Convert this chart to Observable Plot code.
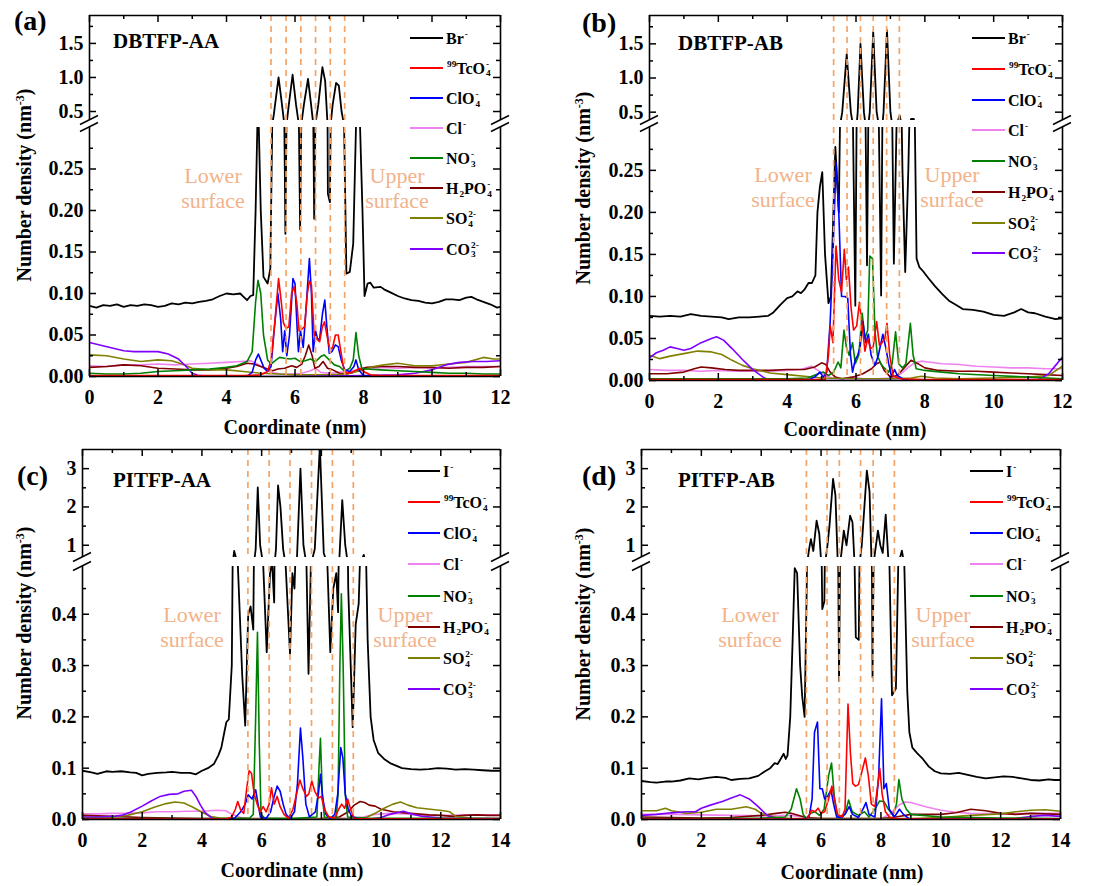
<!DOCTYPE html>
<html><head><meta charset="utf-8">
<script src="https://cdn.jsdelivr.net/npm/d3@7"></script>
<script src="https://cdn.jsdelivr.net/npm/@observablehq/plot@0.6"></script>
<style>
body{margin:0;background:#fff}
#root{position:relative;width:1107px;height:886px;overflow:hidden;font-family:"Liberation Serif","Times New Roman",serif;color:#000;background:#fff}
.t{position:absolute;white-space:nowrap;line-height:1}
.st{display:inline-block;vertical-align:-0.25em;font-size:0.58em;line-height:1.05;margin-left:1px;text-align:left}
.st span{display:block}
</style></head><body><div id="root"></div><script>
// ---------------- DATA ----------------
// Panel (a) DBTFP-AA, x in nm, y number density (nm^-3)
const a_Br = [[0,0.085],[0.2,0.083],[0.4,0.086],[0.6,0.085],[0.8,0.087],[1.0,0.084],[1.2,0.086],[1.4,0.085],[1.6,0.087],[1.8,0.086],[2.0,0.084],[2.2,0.085],[2.4,0.088],[2.6,0.087],[2.8,0.089],[3.0,0.088],[3.2,0.09],[3.4,0.091],[3.6,0.093],[3.8,0.097],[4.0,0.1],[4.2,0.099],[4.4,0.1],[4.5,0.096],[4.6,0.092],[4.7,0.097],[4.78,0.098],[4.85,0.2],[4.92,0.34],[5.0,0.2],[5.08,0.12],[5.2,0.112],[5.28,0.13],[5.38,0.45],[5.52,1.0],[5.62,0.6],[5.72,0.172],[5.82,0.6],[5.93,1.04],[6.03,0.6],[6.15,0.177],[6.26,0.6],[6.38,0.98],[6.47,0.6],[6.56,0.19],[6.68,0.6],[6.8,1.15],[6.88,0.95],[6.96,0.22],[7.02,0.21],[7.1,0.6],[7.2,0.92],[7.28,0.88],[7.36,0.5],[7.5,0.124],[7.6,0.126],[7.7,0.16],[7.78,0.3],[7.83,0.34],[7.9,0.3],[7.97,0.2],[8.03,0.097],[8.12,0.112],[8.2,0.113],[8.3,0.107],[8.5,0.108],[8.6,0.105],[8.8,0.101],[9.0,0.097],[9.2,0.094],[9.4,0.092],[9.6,0.091],[9.8,0.089],[10.0,0.088],[10.2,0.09],[10.4,0.093],[10.6,0.093],[10.8,0.092],[11.0,0.095],[11.15,0.096],[11.3,0.093],[11.5,0.09],[11.7,0.087],[11.9,0.083],[12,0.084]];
const a_TcO4 = [[0,0.001],[4.5,0.001],[5.0,0.002],[5.2,0.006],[5.3,0.02],[5.4,0.06],[5.52,0.118],[5.6,0.09],[5.66,0.065],[5.74,0.058],[5.82,0.06],[5.9,0.1],[5.97,0.108],[6.05,0.09],[6.12,0.055],[6.2,0.057],[6.28,0.06],[6.36,0.1],[6.42,0.115],[6.48,0.11],[6.56,0.05],[6.64,0.045],[6.72,0.042],[6.8,0.06],[6.86,0.066],[6.94,0.048],[7.02,0.032],[7.1,0.035],[7.18,0.05],[7.26,0.05],[7.34,0.03],[7.42,0.01],[7.5,0.004],[7.65,0.005],[7.8,0.008],[7.9,0.01],[8.0,0.006],[8.2,0.002],[8.5,0.001],[12,0.001]];
const a_ClO4 = [[0,0.0005],[4.6,0.0005],[4.75,0.005],[4.85,0.02],[4.93,0.027],[5.0,0.02],[5.1,0.01],[5.2,0.006],[5.3,0.012],[5.4,0.06],[5.5,0.1],[5.58,0.07],[5.64,0.03],[5.7,0.055],[5.76,0.025],[5.84,0.05],[5.94,0.118],[6.0,0.112],[6.06,0.06],[6.1,0.03],[6.16,0.055],[6.24,0.035],[6.32,0.08],[6.42,0.142],[6.48,0.1],[6.53,0.03],[6.6,0.055],[6.66,0.045],[6.72,0.045],[6.8,0.075],[6.87,0.092],[6.93,0.06],[7.0,0.028],[7.08,0.03],[7.18,0.038],[7.26,0.036],[7.35,0.02],[7.45,0.008],[7.6,0.006],[7.72,0.012],[7.78,0.02],[7.86,0.008],[8.0,0.001],[12,0.0005]];
const a_Cl = [[0,0.013],[0.5,0.012],[1.0,0.014],[1.5,0.014],[2.0,0.015],[2.5,0.014],[3.0,0.015],[3.5,0.016],[4.0,0.017],[4.4,0.018],[4.7,0.019],[4.9,0.015],[5.1,0.01],[5.3,0.005],[5.6,0.003],[5.9,0.003],[6.2,0.004],[6.45,0.007],[6.6,0.01],[6.75,0.005],[7.0,0.004],[7.3,0.005],[7.6,0.006],[7.9,0.009],[8.2,0.01],[8.6,0.011],[9.0,0.01],[9.5,0.011],[10.0,0.01],[10.5,0.011],[11.0,0.012],[11.5,0.012],[12,0.012]];
const a_NO3 = [[0,0.004],[0.5,0.003],[1.0,0.003],[1.5,0.004],[2.0,0.006],[2.5,0.007],[3.0,0.008],[3.5,0.009],[4.0,0.011],[4.3,0.013],[4.6,0.018],[4.75,0.03],[4.85,0.09],[4.92,0.116],[5.0,0.1],[5.08,0.05],[5.2,0.02],[5.3,0.015],[5.45,0.02],[5.55,0.023],[5.7,0.022],[5.85,0.021],[6.0,0.022],[6.15,0.018],[6.3,0.019],[6.45,0.021],[6.6,0.018],[6.75,0.024],[6.85,0.026],[7.0,0.02],[7.15,0.014],[7.3,0.012],[7.45,0.006],[7.6,0.01],[7.7,0.02],[7.78,0.053],[7.86,0.025],[7.95,0.01],[8.1,0.009],[8.5,0.008],[9.0,0.007],[9.5,0.006],[10.0,0.005],[10.5,0.004],[11.0,0.004],[11.5,0.003],[12,0.003]];
const a_H2PO4 = [[0,0.011],[0.5,0.012],[1.0,0.014],[1.5,0.013],[2.0,0.01],[2.5,0.009],[3.0,0.008],[3.5,0.008],[4.0,0.01],[4.3,0.012],[4.6,0.016],[4.8,0.015],[5.0,0.012],[5.2,0.009],[5.35,0.007],[5.5,0.009],[5.7,0.01],[5.9,0.013],[6.05,0.011],[6.2,0.015],[6.3,0.025],[6.4,0.038],[6.5,0.025],[6.58,0.01],[6.7,0.012],[6.82,0.018],[6.95,0.01],[7.1,0.008],[7.3,0.004],[7.5,0.003],[7.7,0.005],[7.9,0.009],[8.1,0.011],[8.5,0.012],[9.0,0.012],[9.5,0.011],[10.0,0.011],[10.5,0.01],[11.0,0.011],[11.5,0.011],[12,0.012]];
const a_SO4 = [[0,0.026],[0.5,0.025],[1.0,0.021],[1.5,0.018],[2.0,0.02],[2.4,0.019],[2.7,0.015],[3.0,0.01],[3.5,0.008],[4.0,0.008],[4.5,0.006],[5.0,0.004],[5.5,0.003],[6.0,0.002],[6.5,0.002],[7.0,0.002],[7.5,0.003],[8.0,0.008],[8.3,0.012],[8.6,0.014],[9.0,0.016],[9.5,0.013],[10.0,0.013],[10.5,0.015],[11.0,0.017],[11.5,0.023],[11.8,0.021],[12,0.021]];
const a_CO3 = [[0,0.041],[0.3,0.038],[0.6,0.035],[1.0,0.031],[1.3,0.03],[1.7,0.03],[2.0,0.03],[2.3,0.027],[2.6,0.021],[2.8,0.013],[3.0,0.004],[3.2,0.001],[4.0,0.0],[6.0,0.0],[8.0,0.001],[9.0,0.002],[9.5,0.004],[10.0,0.008],[10.4,0.014],[10.8,0.017],[11.2,0.018],[11.6,0.018],[12,0.019]];
const a_dash = [5.3,5.74,6.17,6.6,7.03,7.45];

// Panel (b) DBTFP-AB
const b_Br = [[0,0.077],[0.3,0.076],[0.6,0.077],[0.9,0.076],[1.2,0.079],[1.5,0.077],[1.8,0.076],[2.1,0.075],[2.3,0.073],[2.6,0.075],[2.9,0.075],[3.2,0.076],[3.45,0.077],[3.6,0.081],[3.8,0.09],[4.0,0.098],[4.15,0.1],[4.3,0.106],[4.4,0.104],[4.5,0.108],[4.62,0.116],[4.72,0.116],[4.82,0.125],[4.88,0.2],[4.95,0.23],[5.02,0.248],[5.1,0.15],[5.2,0.092],[5.27,0.1],[5.4,0.278],[5.5,0.2],[5.6,0.5],[5.73,1.35],[5.85,0.5],[5.98,0.089],[6.05,0.5],[6.13,1.5],[6.23,0.5],[6.32,0.137],[6.4,0.5],[6.5,1.67],[6.6,0.5],[6.73,0.101],[6.8,0.5],[6.9,1.7],[7.0,0.5],[7.1,0.139],[7.2,0.35],[7.27,0.45],[7.35,0.25],[7.43,0.129],[7.52,0.25],[7.6,0.4],[7.68,0.4],[7.76,0.145],[7.84,0.135],[7.95,0.13],[8.1,0.122],[8.3,0.112],[8.5,0.103],[8.7,0.095],[8.9,0.09],[9.1,0.085],[9.4,0.084],[9.7,0.082],[10.0,0.078],[10.3,0.077],[10.6,0.081],[10.8,0.085],[11.0,0.081],[11.2,0.08],[11.5,0.076],[11.8,0.073],[12,0.074]];
const b_TcO4 = [[0,0.001],[5.1,0.001],[5.2,0.03],[5.25,0.065],[5.33,0.045],[5.42,0.16],[5.5,0.12],[5.58,0.105],[5.66,0.156],[5.72,0.12],[5.78,0.135],[5.86,0.085],[5.93,0.06],[6.02,0.065],[6.1,0.093],[6.18,0.065],[6.26,0.035],[6.34,0.05],[6.42,0.038],[6.5,0.04],[6.6,0.07],[6.68,0.042],[6.76,0.045],[6.84,0.05],[6.9,0.068],[6.98,0.03],[7.08,0.005],[7.3,0.002],[8,0.001],[12,0.001]];
const b_ClO4 = [[0,0.0005],[4.6,0.0005],[4.8,0.004],[4.95,0.01],[5.05,0.004],[5.15,0.01],[5.25,0.07],[5.33,0.15],[5.42,0.26],[5.5,0.2],[5.58,0.1],[5.68,0.1],[5.76,0.098],[5.84,0.03],[5.9,0.01],[5.98,0.025],[6.05,0.03],[6.12,0.04],[6.2,0.07],[6.28,0.045],[6.36,0.055],[6.44,0.03],[6.55,0.018],[6.65,0.03],[6.78,0.055],[6.86,0.04],[6.95,0.02],[7.03,0.005],[7.12,0.013],[7.2,0.006],[7.4,0.001],[12,0.0005]];
const b_Cl = [[0,0.013],[0.5,0.012],[1.0,0.012],[1.5,0.011],[2.0,0.012],[2.5,0.011],[3.0,0.011],[3.5,0.011],[4.0,0.012],[4.4,0.013],[4.7,0.017],[4.9,0.012],[5.1,0.006],[5.3,0.003],[5.6,0.002],[5.9,0.004],[6.2,0.002],[6.6,0.002],[7.0,0.003],[7.3,0.008],[7.5,0.015],[7.7,0.021],[7.9,0.023],[8.1,0.022],[8.5,0.02],[9.0,0.019],[9.5,0.017],[10.0,0.016],[10.5,0.015],[11.0,0.015],[11.5,0.014],[12,0.014]];
const b_NO3 = [[0,0.002],[1,0.002],[2,0.002],[3,0.002],[4,0.002],[4.6,0.003],[4.9,0.008],[5.05,0.01],[5.2,0.006],[5.35,0.01],[5.48,0.022],[5.56,0.015],[5.65,0.06],[5.72,0.04],[5.8,0.03],[5.9,0.045],[5.98,0.02],[6.08,0.03],[6.18,0.08],[6.26,0.05],[6.34,0.06],[6.4,0.148],[6.48,0.145],[6.55,0.06],[6.62,0.03],[6.72,0.02],[6.82,0.015],[6.95,0.01],[7.05,0.02],[7.15,0.058],[7.24,0.02],[7.35,0.015],[7.45,0.02],[7.58,0.068],[7.66,0.03],[7.75,0.014],[8.0,0.012],[8.5,0.01],[9.0,0.008],[10.0,0.006],[11.0,0.004],[12,0.002]];
const b_H2PO4 = [[0,0.008],[0.5,0.008],[1.0,0.01],[1.3,0.014],[1.5,0.016],[1.8,0.015],[2.2,0.013],[2.6,0.012],[3.0,0.012],[3.5,0.012],[4.0,0.013],[4.5,0.013],[4.8,0.016],[5.0,0.021],[5.12,0.019],[5.25,0.01],[5.4,0.004],[5.6,0.002],[5.9,0.004],[6.2,0.008],[6.45,0.014],[6.6,0.02],[6.7,0.022],[6.82,0.012],[7.0,0.004],[7.2,0.006],[7.4,0.015],[7.6,0.024],[7.8,0.02],[8.0,0.015],[8.4,0.012],[9.0,0.011],[9.5,0.011],[10.0,0.01],[10.5,0.009],[11.0,0.008],[11.5,0.007],[12,0.006]];
const b_SO4 = [[0,0.03],[0.3,0.026],[0.6,0.029],[1.0,0.032],[1.4,0.035],[1.8,0.034],[2.1,0.031],[2.4,0.024],[2.7,0.018],[3.0,0.014],[3.5,0.009],[4.0,0.007],[4.5,0.005],[5.0,0.003],[6.0,0.002],[7.0,0.002],[7.6,0.003],[7.9,0.005],[8.3,0.003],[9.0,0.002],[10.0,0.003],[11.0,0.004],[11.6,0.006],[12,0.017]];
const b_CO3 = [[0,0.027],[0.2,0.033],[0.4,0.036],[0.6,0.04],[0.8,0.038],[1.0,0.036],[1.2,0.038],[1.5,0.045],[1.8,0.05],[1.95,0.052],[2.15,0.048],[2.4,0.038],[2.7,0.025],[3.0,0.013],[3.3,0.004],[3.5,0.0],[6,0.0],[9,0.0],[11.3,0.001],[11.6,0.008],[11.8,0.018],[12,0.028]];
const b_dash = [5.35,5.74,6.13,6.5,6.89,7.26];

// Panel (c) PITFP-AA
const c_I = [[0,0.095],[0.3,0.092],[0.5,0.089],[0.8,0.094],[1.0,0.093],[1.3,0.094],[1.6,0.092],[1.8,0.091],[2.0,0.086],[2.2,0.089],[2.5,0.091],[2.8,0.092],[3.0,0.093],[3.3,0.091],[3.6,0.091],[3.8,0.088],[4.0,0.095],[4.2,0.1],[4.4,0.108],[4.55,0.125],[4.65,0.14],[4.75,0.17],[4.82,0.19],[4.9,0.195],[5.0,0.3],[5.08,0.85],[5.2,0.5],[5.35,0.28],[5.45,0.183],[5.55,0.4],[5.63,0.415],[5.72,0.37],[5.8,0.9],[5.87,2.51],[5.95,1.0],[6.05,0.5],[6.17,0.326],[6.28,0.48],[6.35,0.5],[6.42,0.423],[6.48,0.9],[6.55,2.56],[6.63,2.0],[6.72,0.9],[6.8,0.5],[6.95,0.323],[7.03,0.48],[7.1,0.45],[7.18,0.6],[7.3,3.0],[7.4,1.0],[7.5,0.5],[7.57,0.284],[7.65,0.5],[7.78,0.9],[7.95,3.6],[8.08,0.8],[8.2,0.5],[8.3,0.326],[8.4,0.45],[8.5,0.48],[8.56,0.404],[8.6,0.6],[8.7,2.18],[8.8,1.0],[8.9,0.45],[9.05,0.18],[9.15,0.38],[9.25,0.42],[9.42,0.75],[9.55,0.35],[9.65,0.2],[9.75,0.155],[9.9,0.13],[10.1,0.118],[10.3,0.11],[10.5,0.105],[10.7,0.1],[11.0,0.098],[11.3,0.097],[11.6,0.098],[11.9,0.1],[12.2,0.099],[12.5,0.097],[12.8,0.098],[13.1,0.097],[13.4,0.096],[13.7,0.095],[14,0.095]];
const c_TcO4 = [[0,0.001],[4.8,0.001],[5.0,0.005],[5.12,0.02],[5.2,0.035],[5.3,0.018],[5.4,0.012],[5.5,0.06],[5.58,0.095],[5.66,0.09],[5.75,0.05],[5.85,0.03],[5.95,0.015],[6.05,0.025],[6.15,0.015],[6.25,0.03],[6.33,0.062],[6.42,0.03],[6.52,0.045],[6.62,0.025],[6.75,0.01],[6.9,0.002],[7.05,0.02],[7.15,0.045],[7.28,0.077],[7.38,0.06],[7.5,0.045],[7.58,0.05],[7.68,0.075],[7.78,0.055],[7.9,0.042],[8.0,0.045],[8.1,0.02],[8.25,0.005],[8.45,0.003],[8.58,0.02],[8.68,0.03],[8.78,0.022],[8.88,0.04],[8.98,0.02],[9.1,0.002],[14,0.001]];
const c_ClO4 = [[0,0.0005],[4.9,0.0005],[5.1,0.003],[5.3,0.015],[5.45,0.03],[5.55,0.048],[5.68,0.04],[5.8,0.058],[5.88,0.03],[5.96,0.005],[6.15,0.002],[6.3,0.015],[6.42,0.045],[6.52,0.065],[6.62,0.055],[6.72,0.03],[6.82,0.01],[6.95,0.002],[7.1,0.015],[7.2,0.07],[7.3,0.178],[7.38,0.12],[7.48,0.03],[7.6,0.005],[7.8,0.015],[7.9,0.05],[7.97,0.088],[8.05,0.04],[8.15,0.01],[8.3,0.002],[8.45,0.01],[8.55,0.05],[8.65,0.14],[8.72,0.12],[8.8,0.05],[8.9,0.02],[9.0,0.008],[9.2,0.001],[14,0.0005]];
const c_Cl = [[0,0.011],[0.5,0.011],[1.0,0.012],[1.5,0.012],[2.0,0.013],[2.5,0.015],[3.0,0.015],[3.5,0.016],[4.0,0.016],[4.5,0.018],[4.8,0.017],[5.0,0.01],[5.3,0.004],[5.6,0.002],[6.0,0.002],[7.0,0.002],[8.0,0.002],[9.0,0.003],[9.4,0.005],[9.8,0.01],[10.3,0.012],[10.8,0.011],[11.3,0.009],[11.8,0.008],[12.3,0.008],[12.8,0.009],[13.3,0.009],[14,0.009]];
const c_NO3 = [[0,0.002],[2,0.002],[4,0.002],[5.0,0.002],[5.6,0.003],[5.72,0.01],[5.8,0.2],[5.86,0.365],[5.92,0.15],[5.98,0.01],[6.1,0.003],[7.0,0.002],[7.85,0.005],[7.92,0.1],[7.97,0.158],[8.03,0.05],[8.1,0.005],[8.5,0.004],[8.56,0.05],[8.62,0.3],[8.67,0.44],[8.73,0.3],[8.8,0.05],[8.88,0.005],[9.5,0.003],[14,0.002]];
const c_H2PO4 = [[0,0.008],[1.0,0.006],[2.0,0.004],[3.0,0.003],[4.0,0.002],[5.0,0.002],[6.0,0.001],[7.0,0.001],[8.0,0.002],[8.6,0.005],[8.9,0.015],[9.1,0.028],[9.3,0.035],[9.45,0.033],[9.6,0.028],[9.8,0.026],[10.0,0.02],[10.4,0.015],[10.8,0.013],[11.2,0.011],[11.6,0.009],[12.0,0.008],[12.4,0.006],[12.8,0.008],[13.2,0.009],[13.6,0.008],[14,0.008]];
const c_SO4 = [[0,0.004],[0.5,0.004],[1.0,0.005],[1.5,0.008],[2.0,0.015],[2.4,0.024],[2.8,0.031],[3.1,0.034],[3.4,0.032],[3.7,0.024],[4.0,0.014],[4.3,0.006],[4.6,0.003],[5.5,0.002],[7,0.002],[9,0.002],[9.5,0.004],[9.8,0.012],[10.1,0.022],[10.4,0.03],[10.65,0.034],[10.9,0.028],[11.2,0.023],[11.5,0.021],[11.8,0.019],[12.1,0.017],[12.3,0.015],[12.5,0.006],[13,0.003],[14,0.002]];
const c_CO3 = [[0,0.005],[0.5,0.005],[1.0,0.006],[1.3,0.008],[1.6,0.014],[2.0,0.026],[2.3,0.036],[2.6,0.045],[2.9,0.049],[3.2,0.05],[3.4,0.055],[3.65,0.057],[3.8,0.045],[3.95,0.028],[4.1,0.014],[4.3,0.004],[4.5,0.0],[9.5,0.0],[10.0,0.004],[10.3,0.01],[10.6,0.014],[10.75,0.016],[11.0,0.011],[11.4,0.006],[12,0.003],[13,0.002],[14,0.002]];
const c_dash = [5.54,6.25,6.95,7.67,8.37,9.07];

// Panel (d) PITFP-AB
const d_I = [[0,0.075],[0.3,0.073],[0.5,0.072],[0.8,0.074],[1.0,0.074],[1.3,0.076],[1.6,0.08],[1.9,0.078],[2.2,0.081],[2.5,0.083],[2.8,0.081],[3.0,0.077],[3.3,0.079],[3.6,0.08],[3.9,0.085],[4.1,0.093],[4.3,0.1],[4.45,0.11],[4.55,0.108],[4.65,0.118],[4.75,0.128],[4.82,0.118],[4.88,0.125],[4.97,0.2],[5.05,0.35],[5.12,0.49],[5.2,0.48],[5.3,0.3],[5.37,0.24],[5.45,0.2],[5.52,0.45],[5.6,0.9],[5.66,1.16],[5.74,0.85],[5.85,1.64],[5.94,1.3],[6.0,0.6],[6.04,0.41],[6.11,0.425],[6.2,0.9],[6.28,1.5],[6.4,2.73],[6.48,2.3],[6.55,0.7],[6.6,0.27],[6.68,0.8],[6.76,1.38],[6.85,1.0],[6.97,1.77],[7.05,1.6],[7.12,0.5],[7.16,0.355],[7.26,0.35],[7.36,1.0],[7.53,2.95],[7.62,2.4],[7.68,0.7],[7.72,0.277],[7.8,0.8],[7.9,1.38],[7.98,1.0],[8.06,0.8],[8.16,1.8],[8.25,0.6],[8.37,0.242],[8.5,0.255],[8.58,0.5],[8.7,0.86],[8.78,0.5],[8.88,0.25],[8.95,0.17],[9.05,0.14],[9.2,0.13],[9.4,0.118],[9.6,0.103],[9.8,0.094],[10.0,0.09],[10.3,0.089],[10.6,0.091],[10.9,0.087],[11.2,0.083],[11.5,0.08],[11.8,0.082],[12.1,0.084],[12.4,0.083],[12.7,0.08],[13.0,0.077],[13.3,0.076],[13.6,0.078],[13.8,0.077],[14,0.077]];
const d_TcO4 = [[0,0.001],[5.5,0.001],[5.58,0.005],[5.68,0.018],[5.8,0.015],[5.9,0.022],[6.0,0.012],[6.12,0.015],[6.25,0.04],[6.36,0.065],[6.45,0.04],[6.55,0.01],[6.7,0.005],[6.8,0.02],[6.9,0.225],[6.98,0.13],[7.06,0.07],[7.15,0.065],[7.25,0.068],[7.35,0.09],[7.48,0.12],[7.58,0.085],[7.68,0.03],[7.8,0.025],[7.9,0.07],[7.96,0.1],[8.04,0.05],[8.15,0.015],[8.3,0.004],[8.6,0.001],[14,0.001]];
const d_ClO4 = [[0,0.0005],[5.4,0.0005],[5.6,0.005],[5.7,0.04],[5.78,0.17],[5.88,0.19],[5.96,0.06],[6.04,0.06],[6.12,0.04],[6.22,0.045],[6.33,0.058],[6.42,0.03],[6.52,0.005],[6.7,0.004],[6.82,0.012],[6.94,0.025],[7.05,0.01],[7.25,0.004],[7.4,0.02],[7.5,0.033],[7.6,0.01],[7.8,0.005],[7.92,0.08],[8.02,0.235],[8.1,0.06],[8.18,0.07],[8.28,0.02],[8.45,0.005],[8.62,0.02],[8.75,0.01],[8.95,0.001],[14,0.0005]];
const d_Cl = [[0,0.01],[1,0.01],[2,0.009],[3,0.008],[4,0.007],[5,0.008],[5.5,0.004],[6,0.002],[7,0.001],[8,0.002],[8.3,0.01],[8.6,0.028],[8.8,0.034],[9.0,0.033],[9.5,0.025],[10,0.018],[10.5,0.014],[11,0.012],[12,0.011],[13,0.012],[14,0.012]];
const d_NO3 = [[0,0.002],[2,0.002],[4,0.003],[4.8,0.005],[5.0,0.02],[5.18,0.06],[5.3,0.04],[5.4,0.01],[5.5,0.002],[5.65,0.012],[5.8,0.015],[5.95,0.008],[6.1,0.02],[6.25,0.085],[6.35,0.11],[6.45,0.04],[6.55,0.005],[6.8,0.01],[6.92,0.038],[7.04,0.015],[7.25,0.008],[7.45,0.015],[7.6,0.005],[7.8,0.02],[7.95,0.036],[8.1,0.035],[8.25,0.02],[8.4,0.008],[8.52,0.03],[8.6,0.078],[8.7,0.04],[8.85,0.02],[9.0,0.01],[10,0.005],[12,0.003],[14,0.002]];
const d_H2PO4 = [[0,0.005],[1,0.004],[2,0.003],[3,0.004],[4,0.008],[4.5,0.012],[4.8,0.014],[5.0,0.012],[5.5,0.004],[6,0.002],[8,0.002],[8.5,0.005],[9,0.01],[10,0.01],[10.5,0.013],[11,0.02],[11.5,0.017],[12,0.012],[12.5,0.01],[13,0.012],[14,0.01]];
const d_SO4 = [[0,0.017],[0.5,0.017],[0.8,0.022],[1.0,0.017],[1.5,0.012],[2.0,0.014],[2.5,0.02],[3.0,0.02],[3.5,0.025],[3.8,0.02],[4.0,0.012],[4.5,0.004],[5,0.002],[9,0.002],[10,0.004],[11,0.008],[12,0.011],[12.5,0.015],[13,0.018],[13.5,0.019],[14,0.016]];
const d_CO3 = [[0,0.008],[0.5,0.01],[1,0.013],[1.5,0.015],[1.8,0.015],[2.0,0.022],[2.3,0.028],[2.7,0.035],[3.0,0.042],[3.3,0.048],[3.6,0.04],[3.9,0.025],[4.2,0.008],[4.5,0.002],[5,0.0],[12,0.0],[12.5,0.002],[13,0.006],[13.5,0.008],[14,0.006]];
const d_dash = [5.51,6.2,6.61,7.32,7.74,8.45];

// tick values
const xTicks12 = [0,2,4,6,8,10,12], xMinor12 = [1,3,5,7,9,11];
const xTicks14 = [0,2,4,6,8,10,12,14], xMinor14 = [1,3,5,7,9,11,13];
const yUpAB = [0.5,1.0,1.5], yUpABminor = [0.75,1.25,1.75];
const yLoAB = [0,0.05,0.1,0.15,0.2,0.25], yLoABminor = [0.025,0.075,0.125,0.175,0.225,0.275];
const yUpCD = [1,2,3], yUpCDminor = [1.5,2.5];
const yLoCD = [0,0.1,0.2,0.3,0.4], yLoCDminor = [0.05,0.15,0.25,0.35,0.45];

// legend labels: ["t", text] plain, ["s", sub, sup] stacked
const lab_Br = [["t","Br"],["s","","-"]];
const lab_I = [["t","I"],["s","","-"]];
const lab_TcO4 = [["s","","99"],["t","TcO"],["s","4","-"]];
const lab_ClO4 = [["t","ClO"],["s","4","-"]];
const lab_Cl = [["t","Cl"],["s","","-"]];
const lab_NO3 = [["t","NO"],["s","3","-"]];
const lab_H2PO4 = [["t","H"],["s","2",""],["t","PO"],["s","4","-"]];
const lab_SO4 = [["t","SO"],["s","4","2-"]];
const lab_CO3 = [["t","CO"],["s","3","2-"]];

// ---------------- STYLE ----------------
const C = {anion:"#000000", TcO4:"#FF0000", ClO4:"#0000FF", Cl:"#EE82EE", NO3:"#008000", H2PO4:"#800000", SO4:"#808000", CO3:"#8000FF"};
const ORANGE = "#F4A466", SURF = "#F2B28A";
const FONT = '"Liberation Serif","Times New Roman",serif';
const ML = 75, MR = 12, MT = 12, MB = 45;

function mkSeries(an, tc, cl4, cl, no3, h2, so4, co3, anLab) {
  return [
    {data: an, color: C.anion, w: 1.8, lab: anLab},
    {data: tc, color: C.TcO4, w: 1.6, lab: lab_TcO4},
    {data: cl4, color: C.ClO4, w: 1.6, lab: lab_ClO4},
    {data: cl, color: C.Cl, w: 1.6, lab: lab_Cl},
    {data: no3, color: C.NO3, w: 1.6, lab: lab_NO3},
    {data: h2, color: C.H2PO4, w: 1.6, lab: lab_H2PO4},
    {data: so4, color: C.SO4, w: 1.6, lab: lab_SO4},
    {data: co3, color: C.CO3, w: 1.6, lab: lab_CO3}
  ];
}
const drawOrder = [0,3,5,6,7,4,2,1];

const panels = [
  {tag:"(a)", title:"DBTFP-AA", fl:89, fr:500, ft:15, ub:120, lt:127, fb:376, xMax:12, up:[0.368,1.91], lo:[0,0.3],
   upMaj:yUpAB, upMin:yUpABminor, loMaj:yLoAB, loMin:yLoABminor, upFmt:d=>d.toFixed(1), loFmt:d=>d.toFixed(2),
   xMaj:xTicks12, xMin:xMinor12, dash:a_dash,
   series: mkSeries(a_Br,a_TcO4,a_ClO4,a_Cl,a_NO3,a_H2PO4,a_SO4,a_CO3,lab_Br),
   tagPos:[14,6.5], titlePos:[113,31], lower:[213,183], upper:[397,183],
   yTitle:[24,185], xTitle:[295,434], leg:[410,443,37.5,30.15]},
  {tag:"(b)", title:"DBTFP-AB", fl:649, fr:1062, ft:15, ub:120, lt:127, fb:380, xMax:12, up:[0.378,1.915], lo:[0,0.301],
   upMaj:yUpAB, upMin:yUpABminor, loMaj:yLoAB, loMin:yLoABminor, upFmt:d=>d.toFixed(1), loFmt:d=>d.toFixed(2),
   xMaj:xTicks12, xMin:xMinor12, dash:b_dash,
   series: mkSeries(b_Br,b_TcO4,b_ClO4,b_Cl,b_NO3,b_H2PO4,b_SO4,b_CO3,lab_Br),
   tagPos:[582,8.5], titlePos:[678,33], lower:[783,182], upper:[952,182],
   yTitle:[583,188], xTitle:[855,436], leg:[972,1005,38.3,30.7]},
  {tag:"(c)", title:"PITFP-AA", fl:82, fr:500, ft:449, ub:557, lt:566, fb:819, xMax:14, up:[0.68,3.5], lo:[0,0.493],
   upMaj:yUpCD, upMin:yUpCDminor, loMaj:yLoCD, loMin:yLoCDminor, upFmt:d=>String(d), loFmt:d=>d.toFixed(1),
   xMaj:xTicks14, xMin:xMinor14, dash:c_dash,
   series: mkSeries(c_I,c_TcO4,c_ClO4,c_Cl,c_NO3,c_H2PO4,c_SO4,c_CO3,lab_I),
   tagPos:[17,461.5], titlePos:[113,470], lower:[192,622], upper:[405,622],
   yTitle:[24,623], xTitle:[292,877], leg:[408,440,470.7,31.2]},
  {tag:"(d)", title:"PITFP-AB", fl:641, fr:1060, ft:449, ub:557, lt:566, fb:819, xMax:14, up:[0.68,3.5], lo:[0,0.493],
   upMaj:yUpCD, upMin:yUpCDminor, loMaj:yLoCD, loMin:yLoCDminor, upFmt:d=>String(d), loFmt:d=>d.toFixed(1),
   xMaj:xTicks14, xMin:xMinor14, dash:d_dash,
   series: mkSeries(d_I,d_TcO4,d_ClO4,d_Cl,d_NO3,d_H2PO4,d_SO4,d_CO3,lab_I),
   tagPos:[582,461.5], titlePos:[678,470], lower:[750,622], upper:[943,622],
   yTitle:[583,624], xTitle:[852,879], leg:[970,1003,470.7,31.2]}
];

const root = document.getElementById("root");

function subplot(p, isUp) {
  const fw = p.fr - p.fl;
  const top = isUp ? p.ft : p.lt;
  const bot = isUp ? p.ub : p.fb;
  const fh = bot - top;
  const mt = isUp ? MT : 0, mb = isUp ? 0 : MB;
  const ydom = isUp ? p.up : p.lo;
  const xdom = [0, p.xMax];
  const marks = [];
  drawOrder.forEach(i => {
    const s = p.series[i];
    marks.push(Plot.line(s.data, {x: d => d[0], y: d => d[1], stroke: s.color, strokeWidth: s.w, clip: true}));
  });
  marks.push(Plot.ruleX(p.dash, {x: d => d, stroke: ORANGE, strokeWidth: 1.7, strokeDasharray: "6,5"}));
  marks.push(Plot.ruleX(xdom, {x: d => d, stroke: "#000", strokeWidth: 1.6}));
  marks.push(Plot.ruleY([isUp ? ydom[1] : ydom[0]], {y: d => d, stroke: "#000", strokeWidth: 1.6}));
  const yMaj = isUp ? p.upMaj : p.loMaj, yMin = isUp ? p.upMin : p.loMin;
  marks.push(Plot.tickY(yMaj, {y: d => d, insetRight: fw - 7, strokeWidth: 1.5}));
  marks.push(Plot.tickY(yMaj, {y: d => d, insetLeft: fw - 7, strokeWidth: 1.5}));
  marks.push(Plot.tickY(yMin, {y: d => d, insetRight: fw - 4, strokeWidth: 1.5}));
  marks.push(Plot.tickY(yMin, {y: d => d, insetLeft: fw - 4, strokeWidth: 1.5}));
  if (isUp) {
    marks.push(Plot.tickX(p.xMaj, {x: d => d, insetBottom: fh - 7, strokeWidth: 1.5}));
    marks.push(Plot.tickX(p.xMin, {x: d => d, insetBottom: fh - 4, strokeWidth: 1.5}));
  } else {
    marks.push(Plot.tickX(p.xMaj, {x: d => d, insetTop: fh - 7, strokeWidth: 1.5}));
    marks.push(Plot.tickX(p.xMin, {x: d => d, insetTop: fh - 4, strokeWidth: 1.5}));
    marks.push(Plot.axisX(p.xMaj, {tickSize: 0, tickPadding: 13, tickFormat: d => String(d), label: null, fontSize: 20, fontWeight: "bold"}));
  }
  marks.push(Plot.axisY(yMaj, {anchor: "left", tickSize: 0, tickPadding: 6, tickFormat: isUp ? p.upFmt : p.loFmt, label: null, fontSize: 20, fontWeight: "bold"}));
  const svg = Plot.plot({
    width: ML + fw + MR, height: mt + fh + mb,
    marginLeft: ML, marginRight: MR, marginTop: mt, marginBottom: mb,
    x: isUp ? {domain: xdom, axis: null} : {domain: xdom},
    y: {domain: ydom},
    style: {fontFamily: FONT, fontSize: "20px", fontWeight: "bold", background: "transparent", overflow: "visible", color: "#000"},
    marks
  });
  svg.style.position = "absolute";
  svg.style.left = (p.fl - ML) + "px";
  svg.style.top = (isUp ? p.ft - MT : p.lt) + "px";
  svg.style.maxWidth = "none";
  root.appendChild(svg);
}

function chem(parts) {
  return parts.map(q => q[0] === "t" ? q[1] :
    `<span class="st"><span>${q[2] || "&nbsp;"}</span><span>${q[1] || "&nbsp;"}</span></span>`).join("");
}
function addText(html, left, top, css) {
  const el = document.createElement("div");
  el.className = "t";
  el.innerHTML = html;
  el.style.left = left + "px";
  el.style.top = top + "px";
  Object.assign(el.style, css || {});
  root.appendChild(el);
  return el;
}

panels.forEach(p => { subplot(p, true); subplot(p, false); });

// break marks
const ov = d3.create("svg").attr("width", 1107).attr("height", 886)
  .style("position", "absolute").style("left", "0px").style("top", "0px").style("overflow", "visible");
panels.forEach(p => {
  const yc = (p.ub + p.lt) / 2, h = (p.lt - p.ub) / 2;
  [p.fl, p.fr].forEach(x => {
    ov.append("polygon").attr("points", `${x-9},${yc-h+4.5} ${x+9},${yc-h-4.5} ${x+9},${yc+h-4.5} ${x-9},${yc+h+4.5}`).attr("fill", "#fff");
    ov.append("line").attr("x1", x-9).attr("y1", yc-h+4.5).attr("x2", x+9).attr("y2", yc-h-4.5).attr("stroke", "#000").attr("stroke-width", 1.5);
    ov.append("line").attr("x1", x-9).attr("y1", yc+h+4.5).attr("x2", x+9).attr("y2", yc+h-4.5).attr("stroke", "#000").attr("stroke-width", 1.5);
  });
});
root.appendChild(ov.node());

// texts
panels.forEach(p => {
  addText(p.tag, p.tagPos[0], p.tagPos[1], {fontSize: "28px", fontWeight: "bold"});
  addText(p.title, p.titlePos[0], p.titlePos[1], {fontSize: "21px", fontWeight: "bold"});
  [["Lower", p.lower], ["Upper", p.upper]].forEach(([w, pos]) => {
    addText(w, pos[0], pos[1] - 18.5, {fontSize: "22px", color: SURF, transform: "translateX(-50%)"});
    addText("surface", pos[0], pos[1] + 25 - 18.5, {fontSize: "22px", color: SURF, transform: "translateX(-50%)"});
  });
  addText('Number density (nm<sup style="font-size:0.6em;vertical-align:0.65em">-3</sup>)', p.yTitle[0], p.yTitle[1],
    {fontSize: "20px", fontWeight: "bold", transform: "translate(-50%,-50%) rotate(-90deg)"});
  addText("Coordinate (nm)", p.xTitle[0], p.xTitle[1] - 16.8, {fontSize: "20px", fontWeight: "bold", transform: "translateX(-50%)"});
  const [lx1, lx2, ly0, ldy] = p.leg;
  p.series.forEach((s, i) => {
    const y = ly0 + i * ldy;
    const ln = document.createElement("div");
    Object.assign(ln.style, {position: "absolute", left: lx1 + "px", top: (y - 1) + "px", width: (lx2 - lx1) + "px", height: "0px", borderTop: `2px solid ${s.color}`});
    root.appendChild(ln);
    addText(chem(s.lab), lx2 + 3, y - 8, {fontSize: "16px", fontWeight: "bold"});
  });
});
</script></body></html>
